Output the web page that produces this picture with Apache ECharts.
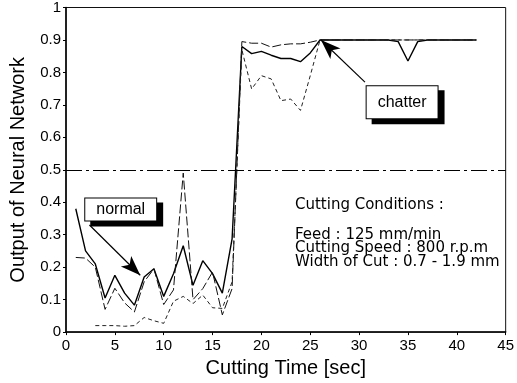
<!DOCTYPE html>
<html>
<head>
<meta charset="utf-8">
<script src="https://cdn.jsdelivr.net/npm/echarts@6/dist/echarts.min.js"></script>
<style>
  html, body { margin: 0; padding: 0; background: #fff; }
  #main { width: 517px; height: 383px; }
</style>
</head>
<body>
<div id="main"></div>
<script>
var chartDom = document.getElementById('main');
var myChart = echarts.init(chartDom);
var option;

// cutting time [sec]
var time = [1, 2, 3, 4, 5, 6, 7, 8, 9, 10, 11, 12, 13, 14, 15, 16, 17, 18, 19, 20, 21,
            22, 23, 24, 25, 26, 27, 28, 29, 30, 31, 32, 33, 34, 35, 36, 37, 38, 39, 40, 41, 42];

// network output, solid line
var outSolid = [0.38, 0.25, 0.21, 0.105, 0.175, 0.12, 0.083, 0.17, 0.195, 0.11, 0.18, 0.266, 0.144, 0.22, 0.18, 0.12, 0.287,
                0.88, 0.858, 0.865, 0.853, 0.843, 0.843, 0.833, 0.86,
                0.9, 0.9, 0.9, 0.9, 0.9, 0.9, 0.9, 0.9, 0.895, 0.835, 0.895, 0.9, 0.9, 0.9, 0.9, 0.9, 0.9];

// network output, long dashes
var outDash = [0.23, 0.228, 0.2, 0.07, 0.135, 0.09, 0.062, 0.155, 0.195, 0.085, 0.13, 0.49, 0.1, 0.134, 0.185, 0.053, 0.134,
               0.895, 0.89, 0.89, 0.878, 0.885, 0.888, 0.888, 0.893,
               0.9, 0.9, 0.9, 0.9, 0.9, 0.9, 0.9, 0.9, 0.9, 0.9, 0.9, 0.9, 0.9, 0.9, 0.9, 0.9, 0.9];

// network output, short dashes
var outDot = [null, null, 0.02, 0.02, 0.02, 0.018, 0.02, 0.045, 0.035, 0.027, 0.095, 0.11, 0.088, 0.114, 0.075, 0.073, 0.155,
              0.87, 0.749, 0.79, 0.78, 0.713, 0.718, 0.683, 0.79,
              0.9, 0.9, 0.9, 0.9, 0.9, 0.9, 0.9, 0.9, 0.9, 0.9, 0.9, 0.9, 0.9, 0.9, 0.9, 0.9, 0.9];

var threshold = 0.5;

var conditions = ['Cutting Conditions :', 'Feed : 125 mm/min', 'Cutting Speed : 800 r.p.m', 'Width of Cut : 0.7 - 1.9 mm'];

function pairs(vals) {
    return time.map(function (t, i) { return [t, vals[i]]; });
}

var fontName = '"Liberation Sans", Arial, sans-serif';

function boxLabel(pad) {
    return {
        show: true,
        position: 'inside',
        color: '#000',
        fontSize: 16,
        fontFamily: fontName,
        backgroundColor: '#fff',
        borderColor: '#000',
        borderWidth: 1,
        padding: pad,
        shadowColor: '#000',
        shadowBlur: 0,
        shadowOffsetX: 6,
        shadowOffsetY: 5
    };
}

option = {
    animation: false,
    backgroundColor: '#fff',
    grid: {
        left: 66,
        right: 9,
        top: 6,
        bottom: 49,
        show: true,
        borderColor: '#111',
        borderWidth: 1
    },
    xAxis: {
        type: 'value',
        min: 0,
        max: 45,
        interval: 5,
        name: 'Cutting Time [sec]',
        nameLocation: 'middle',
        nameGap: 24,
        nameTextStyle: { fontSize: 20, color: '#000', fontFamily: fontName },
        axisLine: { lineStyle: { color: '#000', width: 1.5 } },
        axisTick: { show: true, length: 3, lineStyle: { color: '#000' } },
        axisLabel: { fontSize: 15, color: '#000', margin: 6, fontFamily: fontName },
        splitLine: { show: false }
    },
    yAxis: {
        type: 'value',
        min: 0,
        max: 1,
        interval: 0.1,
        name: 'Output of Neural Network',
        nameLocation: 'middle',
        nameGap: 38,
        nameTextStyle: { fontSize: 20, color: '#000', fontFamily: fontName },
        axisLine: { show: true, lineStyle: { color: '#000', width: 1.5 } },
        axisTick: { show: true, length: 3, lineStyle: { color: '#000' } },
        axisLabel: { fontSize: 15, color: '#000', margin: 5, fontFamily: fontName },
        splitLine: { show: false }
    },
    series: [
        {
            type: 'line',
            data: pairs(outSolid),
            symbol: 'none',
            lineStyle: { color: '#000', width: 1.4 },
            markLine: {
                silent: true,
                symbol: 'none',
                label: { show: false },
                lineStyle: { color: '#000', width: 1, type: [16, 4, 3, 4] },
                data: [{ yAxis: threshold }]
            },
            markPoint: {
                silent: true,
                symbol: 'rect',
                symbolSize: 0,
                data: [
                    { coord: [5.6, 0.378], value: 'normal', label: boxLabel([3, 11, 3, 11]) },
                    { coord: [34.4, 0.708], value: 'chatter', label: boxLabel([8, 11, 8, 11]) }
                ],
                label: { formatter: function (p) { return p.value; } }
            }
        },
        {
            type: 'line',
            data: pairs(outDash),
            symbol: 'none',
            lineStyle: { color: '#111', width: 1, type: [9, 3] },
            markLine: {
                silent: true,
                symbol: ['none', 'arrow'],
                symbolSize: [11, 20],
                label: { show: false },
                lineStyle: { color: '#000', width: 1.2, type: 'solid' },
                data: [
                    [{ coord: [2.4, 0.33] }, { coord: [7.6, 0.175] }],
                    [{ coord: [30.6, 0.77] }, { coord: [26.1, 0.9] }]
                ]
            }
        },
        {
            type: 'line',
            data: pairs(outDot),
            symbol: 'none',
            connectNulls: false,
            lineStyle: { color: '#222', width: 1, type: [4, 3] }
        }
    ],
    graphic: conditions.map(function (t, i) {
        var ys = [205, 235, 248.5, 262];
        return {
            type: 'text',
            x: 295,
            y: ys[i],
            style: {
                text: t,
                fill: '#000',
                font: '15px "DejaVu Sans", sans-serif',
                verticalAlign: 'middle'
            }
        };
    })
};

option && myChart.setOption(option);
</script>
</body>
</html>
